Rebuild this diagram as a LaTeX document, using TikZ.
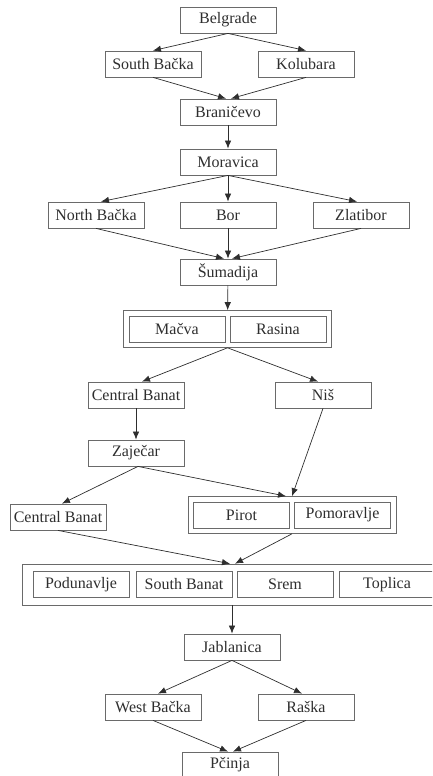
\documentclass[tikz,border=0pt]{standalone}
\usepackage{fontspec}
\setmainfont{Liberation Serif}
\usepackage{tikz}
\usetikzlibrary{arrows.meta,fit}
\definecolor{boxgray}{HTML}{6A6A6A}
\definecolor{inkgray}{HTML}{2E2E2E}
\tikzstyle{line} = [draw, inkgray, line width=0.7pt, -{Latex[length=8pt,width=6.5pt]}]
\tikzstyle{block} = [draw=boxgray, line width=0.8pt, rectangle, text centered, text=inkgray, minimum width=96pt, minimum height=26pt, inner sep=0pt]
\tikzstyle{group} = [draw=boxgray, line width=0.8pt, rectangle, inner sep=5pt]

\begin{document}
\begin{tikzpicture}[x=1pt, y=-1pt, font=\fontsize{16}{18}\selectfont]
        \clip (0,0) rectangle (432,776);
        \useasboundingbox (0,0) rectangle (432,776);
        \node[block] (belgrade) at (228,20) {Belgrade};
        \node[block] (sbacka) at (153,64) {South Bačka};
        \node[block] (kolubara) at (306,64) {Kolubara};
        \node[block] (branicevo) at (228,112) {Braničevo};
        \node[block] (moravica) at (228,162) {Moravica};
        \node[block] (nbacka) at (96,215) {North Bačka};
        \node[block] (bor) at (228,215) {Bor};
        \node[block] (zlatibor) at (361,215) {Zlatibor};
        \node[block] (sumadija) at (228,272) {Šumadija};
        \node[block] (macva) at (177,329) {Mačva};
        \node[block] (rasina) at (278,329) {Rasina};
        \node[group, fit=(macva)(rasina)] (macvarasina) {};
        \node[block] (cbanat) at (136,395) {Central Banat};
        \node[block] (nis) at (323,395) {Niš};
        \node[block] (zajecar) at (136,453) {Zaječar};
        \node[block] (cbanattwo) at (58,517) {Central Banat};
        \node[block] (pirot) at (241.5,515) {Pirot};
        \node[block] (pomoravlje) at (342.5,515) {Pomoravlje};
        \node[group, fit=(pirot)(pomoravlje)] (pirotpom) {};
        \node[block] (podunavlje) at (81,584.5) {Podunavlje};
        \node[block] (sbanat) at (184,584.5) {South Banat};
        \node[block] (srem) at (285,584.5) {Srem};
        \node[block] (toplica) at (387,584.5) {Toplica};
        \node[group, inner xsep=10pt, inner ysep=7pt, fit=(podunavlje)(toplica)] (fourgroup) {};
        \node[block] (jablanica) at (232,647) {Jablanica};
        \node[block] (wbacka) at (153,707) {West Bačka};
        \node[block] (raska) at (306,707) {Raška};
        \node[block] (pcinja) at (230,765) {Pčinja};
        \path[line] (belgrade.south) -- (sbacka.north);
        \path[line] (belgrade.south) -- (kolubara.north);
        \path[line] (sbacka.south) -- ([xshift=-2pt]branicevo.north);
        \path[line] (kolubara.south) -- ([xshift=3pt]branicevo.north);
        \path[line] (branicevo) -- (moravica);
        \path[line] (moravica.south) -- ([xshift=5pt]nbacka.north);
        \path[line] (moravica) -- (bor);
        \path[line] (moravica.south) -- ([xshift=-4pt]zlatibor.north);
        \path[line] (nbacka.south) -- ([xshift=-4pt]sumadija.north);
        \path[line] (bor) -- (sumadija);
        \path[line] (zlatibor.south) -- ([xshift=4pt]sumadija.north);
        \path[line] (sumadija) -- (macvarasina);
        \path[line] (macvarasina.south) -- ([xshift=6pt]cbanat.north);
        \path[line] (macvarasina.south) -- ([xshift=-5pt]nis.north);
        \path[line] (cbanat) -- (zajecar);
        \path[line] ([xshift=2pt]zajecar.south) -- ([xshift=4pt]cbanattwo.north);
        \path[line] ([xshift=2pt]zajecar.south) -- ([xshift=-6pt]pirotpom.north);
        \path[line] (nis.south) -- (pirotpom.north);
        \path[line] (cbanattwo.south) -- ([xshift=-4pt]fourgroup.north);
        \path[line] (pirotpom.south) -- ([xshift=1pt]fourgroup.north);
        \path[line] (jablanica.north |- fourgroup.south) -- (jablanica);
        \path[line] (jablanica.south) -- ([xshift=5pt]wbacka.north);
        \path[line] (jablanica.south) -- ([xshift=-4pt]raska.north);
        \path[line] (wbacka.south) -- ([xshift=-2pt]pcinja.north);
        \path[line] (raska.south) -- ([xshift=3pt]pcinja.north);
    \end{tikzpicture}
\end{document}
